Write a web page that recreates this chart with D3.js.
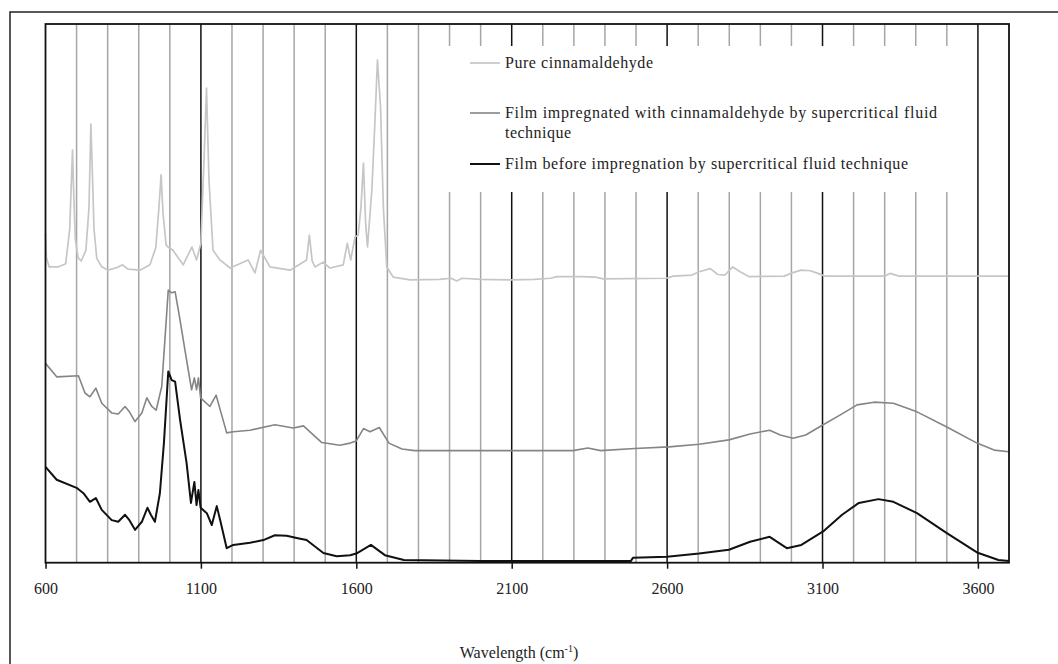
<!DOCTYPE html>
<html lang="en">
<head>
    <meta charset="UTF-8">
    <title>Spectra</title>
    <script src="https://d3js.org/d3.v7.min.js"></script>
    <style>
        body { margin: 0; background: #fff; }
        text { font-family: "Liberation Serif", "Times New Roman", serif; fill: #222; }
    </style>
</head>
<body>
    <script>
        // [wavenumber, intensity (arbitrary units)]
        const pureCinnamaldehyde = [
            [600,61.2],[603,56.6],[612,54.9],[640,54.9],[665,55.5],[678,62],[684,72],[687,76.6],[690,70],
            [696,60],[705,56.6],[715,56],[730,58],[740,66],[746,81.4],[750,74],[756,62],[765,56.5],[780,55],
            [801,54.3],[830,54.8],[848,55.3],[865,54.5],[904,54.3],[936,55.3],[955,58.5],[965,66],[972,72],
            [978,65],[988,59],[994,58.6],[1010,58],[1043,55.3],[1071,58.6],[1086,56.2],[1100,59.3],[1110,74.8],
            [1118,88.1],[1126,71],[1139,58],[1161,56.2],[1194,54.7],[1252,56.2],[1274,53.8],[1292,58],
            [1322,54.9],[1387,54.3],[1440,56.2],[1449,60.8],[1458,56],[1467,54.9],[1493,55.8],[1515,54.7],
            [1558,55.3],[1571,59.3],[1582,56.2],[1596,60.5],[1606,60.8],[1615,66],[1623,74.2],[1630,63],
            [1636,58.6],[1650,69.2],[1660,82],[1668,93.3],[1678,84.6],[1687,66],[1698,54.9],[1719,53],
            [1773,52.5],[1869,52.6],[1905,52.8],[1923,52.3],[1940,52.8],[2000,52.6],[2101,52.5],[2172,52.6],
            [2226,52.8],[2245,53.1],[2322,53.1],[2370,53],[2394,52.7],[2597,52.8],[2620,53.2],[2680,53.4],
            [2703,54],[2739,54.6],[2763,53.5],[2786,53.4],[2811,54.9],[2835,54],[2864,53.1],[2977,53.2],
            [3002,53.8],[3031,54.3],[3061,54.2],[3085,53.7],[3108,53.2],[3299,53.2],[3317,53.7],[3347,53.2],
            [3700,53.2]
        ];
        const filmImpregnated = [
            [600,37],[636,34.5],[706,34.7],[727,31.5],[743,30.8],[762,32.4],[781,29.6],[813,27.8],[834,27.6],
            [856,29],[870,28],[888,26.2],[910,27.8],[926,30.6],[942,29],[956,28.3],[974,32.7],[995,50.6],
            [1006,50.1],[1017,50.3],[1031,45.7],[1054,37.6],[1070,32.1],[1079,34.3],[1086,32.1],[1092,34.3],
            [1099,30.6],[1129,29],[1149,31.1],[1164,28],[1183,24.1],[1204,24.3],[1258,24.6],[1338,25.6],
            [1397,25],[1430,25.4],[1451,24.3],[1489,22.3],[1547,21.8],[1580,22.2],[1600,22.6],[1623,24.9],
            [1644,24.3],[1674,25.1],[1705,22.2],[1747,21.1],[1788,20.8],[2297,20.8],[2345,21.3],[2386,20.8],
            [2496,21.2],[2606,21.5],[2703,22],[2799,22.8],[2867,23.9],[2930,24.6],[2964,23.7],[3005,23.1],
            [3046,23.7],[3102,25.6],[3156,27.4],[3211,29.3],[3266,29.8],[3328,29.6],[3404,28],[3500,25.2],
            [3597,22.2],[3652,20.9],[3700,20.6]
        ];
        const filmBefore = [
            [600,17.8],[636,15.4],[700,13.9],[722,12.9],[743,11.3],[762,12],[781,9.8],[813,7.9],[834,7.6],
            [856,8.9],[870,7.9],[888,6.1],[910,7.6],[928,10.2],[939,8.9],[952,7.6],[968,12.9],[981,22.2],
            [995,35.5],[1006,33.9],[1017,33.6],[1033,26.5],[1054,18.5],[1068,11.1],[1079,15],[1086,10.7],
            [1092,13.5],[1099,10.2],[1119,9.2],[1135,7],[1151,10.5],[1164,7.4],[1183,2.7],[1204,3.3],
            [1258,3.7],[1301,4.2],[1338,5.1],[1376,5],[1408,4.6],[1440,4.2],[1494,1.8],[1537,1.2],[1580,1.4],
            [1600,1.7],[1647,3.3],[1692,1.4],[1753,0.5],[2000,0.3],[2483,0.3],[2490,0.9],[2600,1.1],
            [2703,1.7],[2799,2.4],[2867,3.9],[2930,4.8],[2985,2.7],[3032,3.3],[3102,5.8],[3163,8.9],
            [3217,11.1],[3280,11.8],[3328,11.3],[3404,9.2],[3500,5.5],[3597,1.9],[3666,0.5],[3700,0.3]
        ];
        const seriesNames = [
            ["Pure cinnamaldehyde"],
            ["Film impregnated with cinnamaldehyde by supercritical fluid", "technique"],
            ["Film before impregnation by supercritical fluid technique"]
        ];
        const tickLabels = [600, 1100, 1600, 2100, 2600, 3100, 3600];
        const xTitle = "Wavelength (cm";

        const width = 1058, height = 664;
        const plotL = 45.5, plotR = 1009, plotT = 24, plotB = 562.7;

        const x = d3.scaleLinear().domain([600, 3700]).range([plotL, plotR]);
        const y = d3.scaleLinear().domain([0, 100]).range([plotB, plotT]);

        const svg = d3.select("body").append("svg")
            .attr("width", width)
            .attr("height", height);

        // outer frame (runs off the page on the right and bottom)
        svg.append("path")
            .attr("d", `M10,${height + 5}V12H${width + 5}`)
            .attr("fill", "none").attr("stroke", "#222").attr("stroke-width", 1.5);

        // vertical grid, darker every 500
        const grid = d3.range(700, 3700, 100);
        svg.append("g").selectAll("line").data(grid).enter().append("line")
            .attr("x1", d => x(d)).attr("x2", d => x(d))
            .attr("y1", plotT).attr("y2", plotB)
            .attr("stroke", d => (d - 600) % 500 === 0 ? "#111" : "#a6a6a6")
            .attr("stroke-width", 1.5);

        // legend box hides the grid behind it
        svg.append("rect")
            .attr("x", 426).attr("y", 46).attr("width", 540).attr("height", 146)
            .attr("fill", "#fff");

        const line = d3.line().x(d => x(d[0])).y(d => y(d[1]));
        const styles = [
            { color: "#c6c6c6", w: 1.7 },
            { color: "#858585", w: 1.6 },
            { color: "#111111", w: 2 }
        ];
        [pureCinnamaldehyde, filmImpregnated, filmBefore].forEach((s, i) => {
            svg.append("path").datum(s)
                .attr("d", line)
                .attr("fill", "none")
                .attr("stroke", styles[i].color)
                .attr("stroke-width", styles[i].w)
                .attr("stroke-linejoin", "round");
        });

        // plot frame
        svg.append("rect")
            .attr("x", plotL).attr("y", plotT)
            .attr("width", plotR - plotL).attr("height", plotB - plotT)
            .attr("fill", "none").attr("stroke", "#111").attr("stroke-width", 1.8);

        // x axis
        const axis = svg.append("g")
            .attr("transform", `translate(0,${plotB})`)
            .call(d3.axisBottom(x).tickValues(tickLabels).tickFormat(d3.format("d"))
                .tickSize(6).tickSizeOuter(0).tickPadding(14));
        axis.select(".domain").remove();
        axis.selectAll(".tick line").attr("stroke", "#111").attr("stroke-width", 1.5);
        axis.selectAll(".tick text")
            .style("font-family", "'Liberation Serif', serif")
            .style("font-size", "16px")
            .attr("fill", "#223");

        const title = svg.append("text")
            .attr("x", 519).attr("y", 658)
            .attr("text-anchor", "middle")
            .style("font-size", "16px");
        title.append("tspan").text(xTitle);
        title.append("tspan").attr("dy", -6).style("font-size", "10px").text("-1");
        title.append("tspan").attr("dy", 6).text(")");

        // legend
        const legendY = [[63], [113, 133], [164]];
        const legendW = [[148], [432, 66], [403]];
        seriesNames.forEach((lines, i) => {
            svg.append("line")
                .attr("x1", 470).attr("x2", 500)
                .attr("y1", legendY[i][0]).attr("y2", legendY[i][0])
                .attr("stroke", styles[i].color).attr("stroke-width", styles[i].w);
            lines.forEach((t, j) => {
                svg.append("text")
                    .attr("x", 505).attr("y", legendY[i][j] + 5)
                    .attr("textLength", legendW[i][j])
                    .attr("lengthAdjust", "spacing")
                    .style("font-size", "16px")
                    .text(t);
            });
        });
    </script>
</body>
</html>
